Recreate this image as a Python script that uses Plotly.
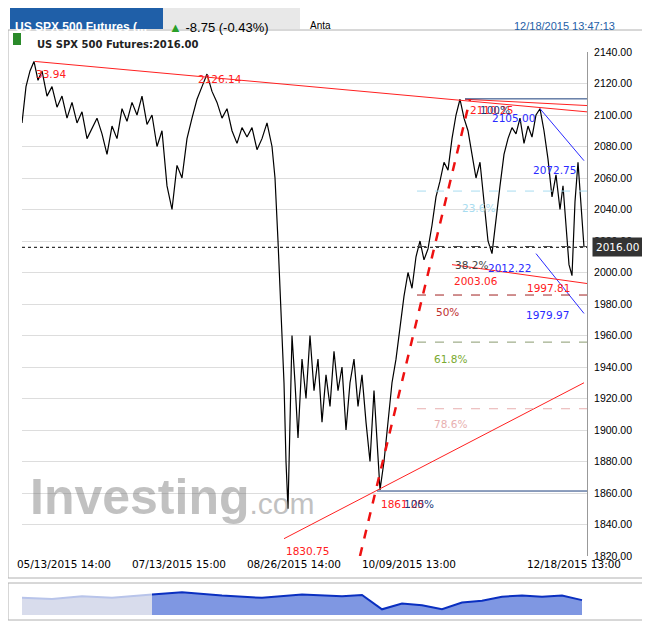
import plotly.graph_objects as go

# price path (time index, price)
t = [0, 4, 8, 12, 16, 20, 25, 30, 35, 40, 45, 50, 55, 60, 65, 70, 75, 80, 85, 90, 95, 100,
     105, 110, 115, 120, 125, 130, 135, 140, 145, 150, 155, 160, 165, 170, 175, 180, 185, 190,
     195, 200, 205, 210, 215, 220, 225, 230, 235, 240, 245, 250, 253, 256, 259, 262, 264, 266,
     268, 270, 273, 276, 280, 284, 288, 292, 296, 300, 304, 308, 312, 316, 320, 324, 328, 332,
     336, 340, 344, 348, 352, 355, 358, 362, 366, 370, 374, 378, 382, 386, 390, 394, 398, 402,
     406, 410, 414, 418, 422, 426, 430, 434, 438, 442, 446, 450, 454, 458, 462, 466, 470, 474,
     478, 482, 486, 490, 494, 498, 502, 506, 510, 514, 518, 522, 526, 530, 534, 538, 541, 544,
     547, 550, 553, 556, 559, 562]
price = [2095, 2118, 2128, 2134, 2122, 2128, 2112, 2118, 2105, 2112, 2098, 2108, 2095, 2102,
         2085, 2092, 2098, 2088, 2075, 2093, 2085, 2104, 2096, 2108, 2100, 2112, 2094, 2100,
         2080, 2090, 2055, 2040, 2068, 2060, 2085, 2098, 2110, 2118, 2126, 2115, 2108, 2098,
         2104, 2090, 2082, 2092, 2086, 2092, 2078, 2085, 2095, 2080, 2060, 2020, 1980, 1930,
         1880, 1850, 1905, 1960, 1930, 1895, 1945, 1920, 1960, 1925, 1945, 1905, 1935, 1915,
         1950, 1925, 1940, 1900, 1930, 1945, 1915, 1935, 1905, 1880, 1925, 1890, 1862, 1880,
         1905, 1930, 1945, 1965, 1985, 2000, 1990, 2010, 2020, 2008, 2015, 2030, 2048, 2058,
         2070, 2065, 2085, 2100, 2110, 2098, 2090, 2075, 2060, 2070, 2045, 2020, 2012, 2035,
         2055, 2075, 2085, 2092, 2088, 2098, 2082, 2093, 2086, 2100, 2104, 2090, 2072, 2048,
         2062, 2040, 2055, 2030, 2005, 1998, 2045, 2070, 2040, 2016]

# navigator series (whole history)
nav_t = [0, 30, 60, 90, 130, 160, 200, 240, 280, 320, 340, 360, 380, 400, 420, 440, 460, 480,
         500, 520, 540, 560]
nav_v = [60, 58, 63, 60, 66, 70, 64, 60, 66, 63, 65, 40, 50, 47, 40, 52, 55, 62, 64, 62, 64, 56]
nav_split = 130

x_ticks = [42, 157, 272, 387, 552]
x_tick_text = ["05/13/2015 14:00", "07/13/2015 15:00", "08/26/2015 14:00",
               "10/09/2015 13:00", "12/18/2015 13:00"]
last_price = 2016.00

# drawn trend lines: x0, y0, x1, y1, colour, width, dash
trend = [
    (13, 2134, 565, 2102, "#ff2020", 1, "solid"),
    (443, 2110, 565, 2106, "#ff2020", 1, "solid"),
    (443, 2110.25, 565, 2110.25, "#1a3d7a", 1, "solid"),
    (518, 2104, 562, 2071, "#2a2aff", 1, "solid"),
    (514, 2012, 562, 1974, "#2a2aff", 1, "solid"),
    (430, 2005, 565, 1993, "#ff2020", 1, "solid"),
    (338, 1820, 448, 2110, "#ee1111", 2.5, "dash"),
    (262, 1831, 562, 1930, "#ff2020", 1, "solid"),
    (355, 1861.25, 565, 1861.25, "#1a3d7a", 1, "solid"),
]
# fibonacci levels: price, colour
fib = [(2051.7, "#a8dcf0"), (2016.5, "#555555"), (1985.7, "#a02020"),
       (1955.8, "#8a9a70"), (1913.5, "#e8b0b0")]

# labels: x, price, text, colour
labels = [
    (12, 2131, "33.94", "#ff2020"), (174, 2128, "2126.14", "#ff2020"),
    (446, 2108, "2110.25", "#ff2020"), (446, 2108, "   100%", "#1a3d7a"),
    (468, 2103, "2105.00", "#2a2aff"), (509, 2070, "2072.75", "#2a2aff"),
    (438, 2046, "23.6%", "#a8dcf0"), (431, 2010, "38.2%", "#444444"),
    (464, 2008, "2012.22", "#2a2aff"), (430, 2000, "2003.06", "#ff2020"),
    (503, 1995, "1997.81", "#ff2020"), (412, 1980, "50%", "#c03030"),
    (502, 1978, "1979.97", "#2a2aff"), (410, 1950, "61.8%", "#7aaa30"),
    (410, 1909, "78.6%", "#e8b0b0"), (357, 1858, "1861.25", "#ff2020"),
    (380, 1858, "100%", "#1a3d7a"), (262, 1828, "1830.75", "#ff2020"),
]


# the page body adds 8px margin, so place things 8px up/left of where they appear
def px(x):
    return (x - 8) / 650


def py(y):
    return 1 - (y - 8) / 627


fig = go.Figure()
fig.add_trace(go.Scatter(x=t, y=price, mode="lines", line=dict(color="black", width=1.2),
                         hoverinfo="skip"))

# navigator
left_t = [v for v in nav_t if v <= nav_split]
left_v = nav_v[:len(left_t)]
right_t = nav_t[len(left_t) - 1:]
right_v = nav_v[len(left_t) - 1:]
fig.add_trace(go.Scatter(x=left_t, y=left_v, mode="lines", fill="tozeroy",
                         line=dict(color="#b8c4ea", width=2), fillcolor="#d8dcec",
                         xaxis="x2", yaxis="y2"))
fig.add_trace(go.Scatter(x=right_t, y=right_v, mode="lines", fill="tozeroy",
                         line=dict(color="#0a2fc0", width=2), fillcolor="#7f97e2",
                         xaxis="x2", yaxis="y2"))

shapes = []
for x0, y0, x1, y1, c, w, d in trend:
    shapes.append(dict(type="line", x0=x0, y0=y0, x1=x1, y1=y1, xref="x", yref="y",
                       line=dict(color=c, width=w, dash=d)))
for lvl, c in fib:
    shapes.append(dict(type="line", x0=395, x1=565, y0=lvl, y1=lvl, xref="x", yref="y",
                       line=dict(color=c, width=1, dash="dash")))
shapes.append(dict(type="line", x0=0, x1=565, y0=last_price, y1=last_price, xref="x",
                   yref="y", line=dict(color="black", width=1, dash="dot")))
# panel frames
shapes.append(dict(type="rect", xref="paper", yref="paper", x0=px(8), x1=px(643),
                   y0=py(578), y1=py(30), line=dict(color="#b0b0b0", width=1)))
shapes.append(dict(type="rect", xref="paper", yref="paper", x0=px(8), x1=px(643),
                   y0=py(620), y1=py(583), line=dict(color="#b0b0b0", width=1)))
shapes.append(dict(type="rect", xref="paper", yref="paper", x0=px(10), x1=px(163),
                   y0=py(29), y1=py(8), fillcolor="#1f5fa8", line_width=0, layer="below"))
shapes.append(dict(type="rect", xref="paper", yref="paper", x0=px(163), x1=px(300),
                   y0=py(29), y1=py(8), fillcolor="#e8e8e8", line_width=0, layer="below"))
shapes.append(dict(type="rect", xref="paper", yref="paper", x0=px(13), x1=px(21),
                   y0=py(45), y1=py(33), fillcolor="#2a8a2a", line_width=0))

annotations = []
for x, y, s, c in labels:
    annotations.append(dict(x=x, y=y, text=s, xref="x", yref="y", showarrow=False,
                            xanchor="left", yanchor="top",
                            font=dict(family="DejaVu Sans", size=10.5, color=c)))
annotations += [
    dict(x=px(592), y=last_price, xref="paper", yref="y", text="2016.00",
         showarrow=False, xanchor="left", bgcolor="#333333", borderpad=3,
         font=dict(family="DejaVu Sans", size=10.5, color="white")),
    dict(x=px(13), y=py(18), xref="paper", yref="paper", text="<b>US SPX 500 Futures (...</b>",
         showarrow=False, xanchor="left",
         font=dict(family="Liberation Sans", size=12, color="white")),
    dict(x=px(167), y=py(18), xref="paper", yref="paper",
         text="<span style='color:#2aa02a'>▲</span> -8.75 (-0.43%)",
         showarrow=False, xanchor="left",
         font=dict(family="Liberation Sans", size=13, color="black")),
    dict(x=px(308), y=py(18), xref="paper", yref="paper", text="Anta", showarrow=False,
         xanchor="left", font=dict(family="Liberation Sans", size=10, color="black")),
    dict(x=px(617), y=py(18), xref="paper", yref="paper", text="12/18/2015 13:47:13",
         showarrow=False, xanchor="right", font=dict(family="Liberation Sans", size=11, color="#1f5fa8")),
    dict(x=px(35), y=py(37), xref="paper", yref="paper", text="<b>US SPX 500 Futures:2016.00</b>",
         showarrow=False, xanchor="left", font=dict(family="DejaVu Sans", size=10, color="#222222")),
    dict(x=px(28), y=py(527), xref="paper", yref="paper",
         text="<b>Investing</b><span style='font-size:30px'>.com</span>", showarrow=False,
         xanchor="left", opacity=0.45,
         font=dict(family="Liberation Sans", size=50, color="#777777")),
]

fig.update_layout(
    width=650, height=627, margin=dict(l=0, r=0, t=0, b=0),
    paper_bgcolor="white", plot_bgcolor="white", showlegend=False,
    shapes=shapes, annotations=annotations,
    xaxis=dict(domain=[px(22), px(587)], range=[0, 565], tickvals=x_ticks,
               ticktext=x_tick_text, showgrid=False, zeroline=False, ticks="",
               tickangle=0, automargin=False,
               tickfont=dict(family="DejaVu Sans", size=10.5, color="black")),
    yaxis=dict(domain=[py(556), py(52)], range=[1820, 2140], side="right",
               dtick=20, tickformat=".2f", gridcolor="#dddddd", zeroline=False,
               showline=True, linecolor="#999999", automargin=False, ticklabelstandoff=4,
               tickfont=dict(family="Liberation Sans", size=10.5, color="black")),
    xaxis2=dict(domain=[px(22), px(587)], range=[0, 565], visible=False, anchor="y2"),
    yaxis2=dict(domain=[py(615), py(591)], range=[30, 72], visible=False, anchor="x2"),
)

fig.write_html("out.html")
